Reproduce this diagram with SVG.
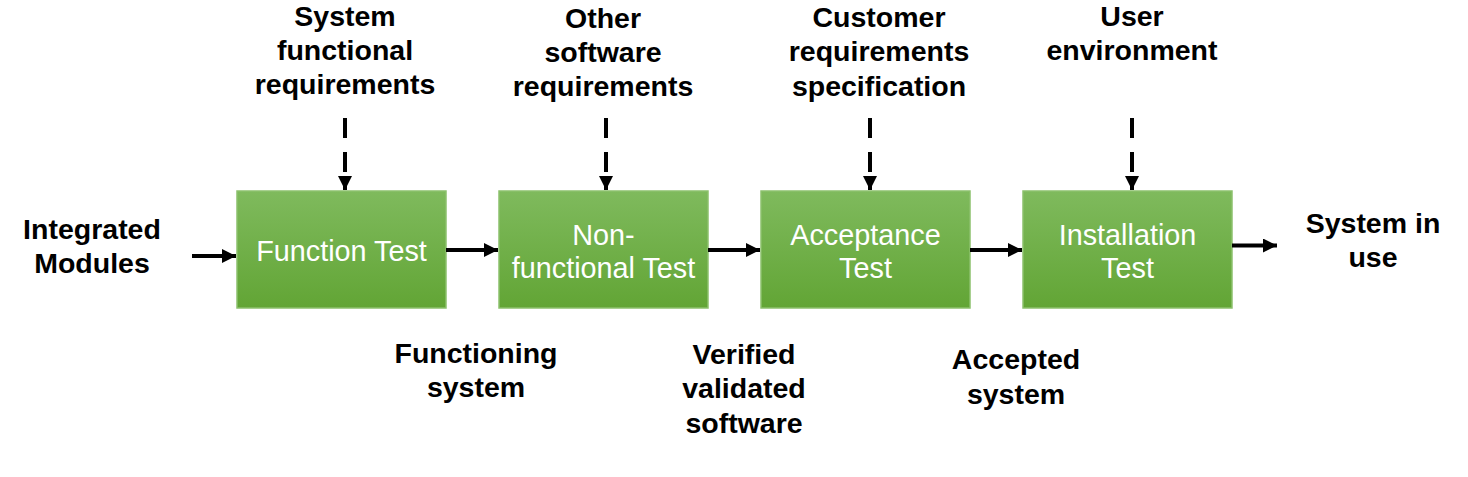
<svg xmlns="http://www.w3.org/2000/svg" width="1468" height="477" viewBox="0 0 1468 477">
<style>
.lbl{font-family:"Liberation Sans",Arial,sans-serif;font-weight:bold;font-size:28.5px;fill:#000;text-anchor:middle}
.box{fill:url(#g);stroke:#8cc16c;stroke-width:1.5}
.bt{font-family:"Liberation Sans",Arial,sans-serif;font-size:28.8px;fill:#fff;text-anchor:middle}
.ln{stroke:#000;stroke-width:4;fill:none}
.dash{stroke-dasharray:20 14}
</style>
<defs>
<linearGradient id="g" x1="0" y1="0" x2="0" y2="1">
<stop offset="0" stop-color="#7fba5d"/>
<stop offset="1" stop-color="#62a535"/>
</linearGradient>
<marker id="ah" viewBox="0 0 14 14" refX="14" refY="7" markerWidth="14" markerHeight="14" markerUnits="userSpaceOnUse" orient="auto">
<path d="M0,0 L14,7 L0,14 z" fill="#000"/>
</marker>
</defs>
<g id="n-function"><rect class="box" x="237" y="191" width="209" height="117"/><text class="bt" x="341.5" y="261">Function Test</text></g>
<g id="n-nonfunctional"><rect class="box" x="499" y="191" width="209" height="117"/><text class="bt" x="603.5" y="245">Non-</text><text class="bt" x="603.5" y="278">functional Test</text></g>
<g id="n-acceptance"><rect class="box" x="761" y="191" width="209" height="117"/><text class="bt" x="865.5" y="245">Acceptance</text><text class="bt" x="865.5" y="278">Test</text></g>
<g id="n-installation"><rect class="box" x="1023" y="191" width="209" height="117"/><text class="bt" x="1127.5" y="245">Installation</text><text class="bt" x="1127.5" y="278">Test</text></g>
<g id="connectors">
<line class="ln" x1="192" y1="256" x2="236" y2="256" marker-end="url(#ah)"/>
<line class="ln" x1="446" y1="250" x2="498" y2="250" marker-end="url(#ah)"/>
<line class="ln" x1="708" y1="250" x2="760" y2="250" marker-end="url(#ah)"/>
<line class="ln" x1="970" y1="250" x2="1022" y2="250" marker-end="url(#ah)"/>
<line class="ln" x1="1232" y1="245.5" x2="1277" y2="245.5" marker-end="url(#ah)"/>
<line class="ln dash" x1="345" y1="118" x2="345" y2="190" marker-end="url(#ah)"/>
<line class="ln dash" x1="606" y1="118" x2="606" y2="190" marker-end="url(#ah)"/>
<line class="ln dash" x1="870" y1="118" x2="870" y2="190" marker-end="url(#ah)"/>
<line class="ln dash" x1="1132" y1="118" x2="1132" y2="190" marker-end="url(#ah)"/>
</g>
<g id="labels">
<text class="lbl" x="345" y="26">System</text><text class="lbl" x="345" y="60">functional</text><text class="lbl" x="345" y="94">requirements</text>
<text class="lbl" x="603" y="28">Other</text><text class="lbl" x="603" y="62">software</text><text class="lbl" x="603" y="96">requirements</text>
<text class="lbl" x="879" y="27">Customer</text><text class="lbl" x="879" y="61">requirements</text><text class="lbl" x="879" y="96">specification</text>
<text class="lbl" x="1132" y="26">User</text><text class="lbl" x="1132" y="60">environment</text>
<text class="lbl" x="92" y="239">Integrated</text><text class="lbl" x="92" y="273">Modules</text>
<text class="lbl" x="1373" y="233">System in</text><text class="lbl" x="1373" y="267">use</text>
<text class="lbl" x="476" y="363">Functioning</text><text class="lbl" x="476" y="397">system</text>
<text class="lbl" x="744" y="364">Verified</text><text class="lbl" x="744" y="398">validated</text><text class="lbl" x="744" y="433">software</text>
<text class="lbl" x="1016" y="369">Accepted</text><text class="lbl" x="1016" y="404">system</text>
</g>
</svg>
